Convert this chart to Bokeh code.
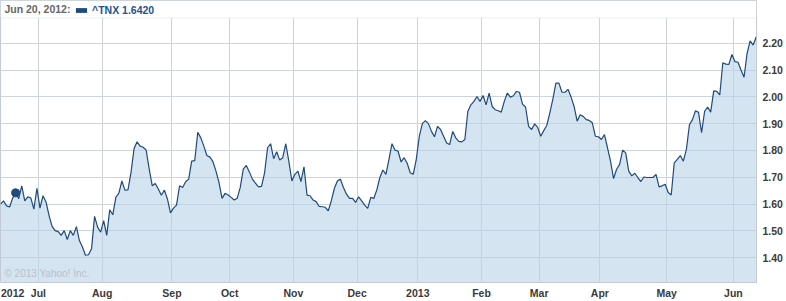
from bokeh.plotting import figure
from bokeh.models import (Range1d, FixedTicker, Legend, LegendItem, Label,
                          ColumnDataSource, NumeralTickFormatter, BoxAnnotation)
from bokeh.embed import file_html
from bokeh.resources import INLINE

# ^TNX daily close, one value per trading day (mid-Jun 2012 .. mid-Jun 2013)
tnx = [
    1.600, 1.612, 1.593, 1.589, 1.622, 1.642, 1.620, 1.668, 1.612, 1.627,
    1.622, 1.581, 1.659, 1.585, 1.631, 1.608, 1.557, 1.517, 1.501, 1.497,
    1.483, 1.501, 1.468, 1.501, 1.483, 1.516, 1.464, 1.440, 1.409, 1.411,
    1.433, 1.554, 1.514, 1.495, 1.538, 1.483, 1.579, 1.560, 1.625, 1.641,
    1.686, 1.652, 1.653, 1.717, 1.806, 1.832, 1.816, 1.812, 1.801, 1.730,
    1.668, 1.677, 1.656, 1.633, 1.652, 1.619, 1.567, 1.585, 1.596, 1.668,
    1.662, 1.683, 1.693,
    1.760, 1.762, 1.868, 1.847, 1.816, 1.781, 1.775, 1.758, 1.723, 1.680,
    1.621, 1.640, 1.634, 1.625, 1.615, 1.622, 1.662, 1.730, 1.744, 1.720,
    1.693, 1.678, 1.664, 1.666, 1.715, 1.810, 1.825, 1.769, 1.795, 1.764,
    1.773, 1.825, 1.760, 1.686, 1.711, 1.723, 1.684, 1.739, 1.633, 1.631,
    1.615, 1.609, 1.591, 1.590, 1.588, 1.575, 1.612, 1.658, 1.686, 1.693,
    1.662, 1.637, 1.621, 1.621, 1.606, 1.627, 1.612, 1.596, 1.584, 1.625,
    1.621, 1.653, 1.699, 1.727, 1.711,
    1.767, 1.825, 1.801, 1.797, 1.757, 1.773, 1.752, 1.717, 1.711, 1.767,
    1.853, 1.900, 1.911, 1.900, 1.871, 1.851, 1.890, 1.878, 1.853, 1.828,
    1.822, 1.871, 1.847, 1.834, 1.832, 1.841, 1.946, 1.970, 1.983, 2.001,
    1.983, 2.005, 1.970, 2.014, 1.964, 1.952, 1.948, 1.943, 1.983, 2.014,
    1.999, 2.004, 2.020, 2.017, 1.973, 1.962, 1.890, 1.878, 1.899, 1.886,
    1.853, 1.874, 1.893, 1.940, 1.991, 2.051, 2.051, 2.017, 2.017, 2.028,
    1.999,
    1.964, 1.909, 1.933, 1.927, 1.915, 1.912, 1.903, 1.853, 1.851, 1.841,
    1.859, 1.810, 1.760, 1.695, 1.730, 1.748, 1.801, 1.791, 1.723, 1.705,
    1.715, 1.699, 1.684, 1.701, 1.699, 1.699, 1.699, 1.711, 1.664, 1.668,
    1.674, 1.643, 1.634, 1.754, 1.767, 1.781, 1.760, 1.804, 1.896, 1.915,
    1.948, 1.942, 1.866, 1.946, 1.962, 1.943, 2.022, 2.020, 2.007, 2.127,
    2.122, 2.121, 2.158, 2.131, 2.129, 2.100, 2.073, 2.162, 2.209, 2.193,
    2.223,
]

# trading-day index of the first session of each month
month_first_index = [13, 34, 57, 76, 97, 118, 138, 159, 178, 198, 220, 242]
month_labels = ["Jul", "Aug", "Sep", "Oct", "Nov", "Dec",
                "2013", "Feb", "Mar", "Apr", "May", "Jun"]
year_label_index = 4
year_label = "2012"

y_ticks = [1.40, 1.50, 1.60, 1.70, 1.80, 1.90, 2.00, 2.10, 2.20]
y_min, y_max = 1.3074, 2.3593
header_floor = 2.2944      # value level of the header's bottom rule

marker_index = 5
marker_date = "Jun 20, 2012"
symbol = "^TNX"
marker_value_text = "1.6420"
copyright_text = "\u00a9 2013 Yahoo! Inc."

LINE = "#1f4a7a"
FONT = "Liberation Sans"
BORDER = "#c3cad2"

x = list(range(len(tnx)))
src = ColumnDataSource(dict(x=x, y=tnx, base=[y_min] * len(tnx)))

p = figure(width=786, height=301, output_backend="svg", toolbar_location=None,
           x_range=Range1d(0, 249.1), y_range=Range1d(y_min, y_max),
           y_axis_location="right",
           min_border_left=0, min_border_right=30, min_border_top=0,
           min_border_bottom=17)
p.background_fill_color = "white"
p.border_fill_color = "white"
p.outline_line_color = BORDER

p.varea(x="x", y1="base", y2="y", source=src,
        fill_color="#b9d2e8", fill_alpha=0.6)
p.line(x="x", y="y", source=src, line_color=LINE, line_width=1.2)
p.scatter([marker_index], [tnx[marker_index]], size=8,
          fill_color=LINE, line_color=LINE)

month_ticks = [i - 0.5 for i in month_first_index]

# grid
p.xgrid.ticker = FixedTicker(ticks=month_ticks)
p.ygrid.ticker = FixedTicker(ticks=y_ticks)
for g in (p.xgrid, p.ygrid):
    g.grid_line_color = "#cdd4dc"
    g.grid_line_width = 1

# x axis
xa = p.xaxis[0]
xa.ticker = FixedTicker(ticks=[year_label_index] + month_ticks)
overrides = {year_label_index: year_label}
for t, lab in zip(month_ticks, month_labels):
    overrides[t] = lab
xa.major_label_overrides = overrides
xa.axis_line_color = None
xa.major_tick_line_color = None
xa.minor_tick_line_color = None
xa.major_tick_out = 0
xa.major_label_standoff = 4
xa.major_label_text_font = FONT
xa.major_label_text_font_style = "bold"
xa.major_label_text_font_size = "10.5px"
xa.major_label_text_color = "#3a3a3a"

# y axis (right)
ya = p.yaxis[0]
ya.ticker = FixedTicker(ticks=y_ticks)
ya.formatter = NumeralTickFormatter(format="0.00")
ya.axis_line_color = None
ya.major_tick_line_color = None
ya.minor_tick_line_color = None
ya.major_tick_out = 0
ya.major_label_standoff = 6
ya.major_label_text_font = FONT
ya.major_label_text_font_style = "bold"
ya.major_label_text_font_size = "10.5px"
ya.major_label_text_color = "#3a3a3a"

# header strip
p.add_layout(BoxAnnotation(bottom=header_floor, fill_color="white",
                           fill_alpha=1, line_color=BORDER, line_width=1))
p.add_layout(Label(x=1.3, y=(header_floor + y_max) / 2,
                   text=f"{marker_date}:", text_font=FONT,
                   text_font_style="bold", text_font_size="10.5px",
                   text_color="#666666", text_baseline="middle"))

# legend swatch: a renderer with one undrawable (NaN) row, used only for the key
nan = float("nan")
swatch = p.quad(left=[nan], right=[nan], top=[nan], bottom=[nan],
                fill_color=LINE, line_color=None)
legend = Legend(items=[LegendItem(label=f"{symbol} {marker_value_text}",
                                  renderers=[swatch])],
                orientation="horizontal", location=(74, 266),
                glyph_width=14, glyph_height=6, label_height=12,
                label_standoff=4, padding=2, margin=0, spacing=0,
                border_line_color=None, background_fill_alpha=0)
legend.label_text_font = FONT
legend.label_text_font_style = "bold"
legend.label_text_font_size = "10.5px"
legend.label_text_color = "#24528a"
p.add_layout(legend, "center")

p.add_layout(Label(x=1.3, y=1.322, text=copyright_text,
                   text_font=FONT, text_font_size="10px",
                   text_color="#b7c2cc", text_baseline="bottom"))

open("out.html", "w").write(file_html(p, INLINE))
